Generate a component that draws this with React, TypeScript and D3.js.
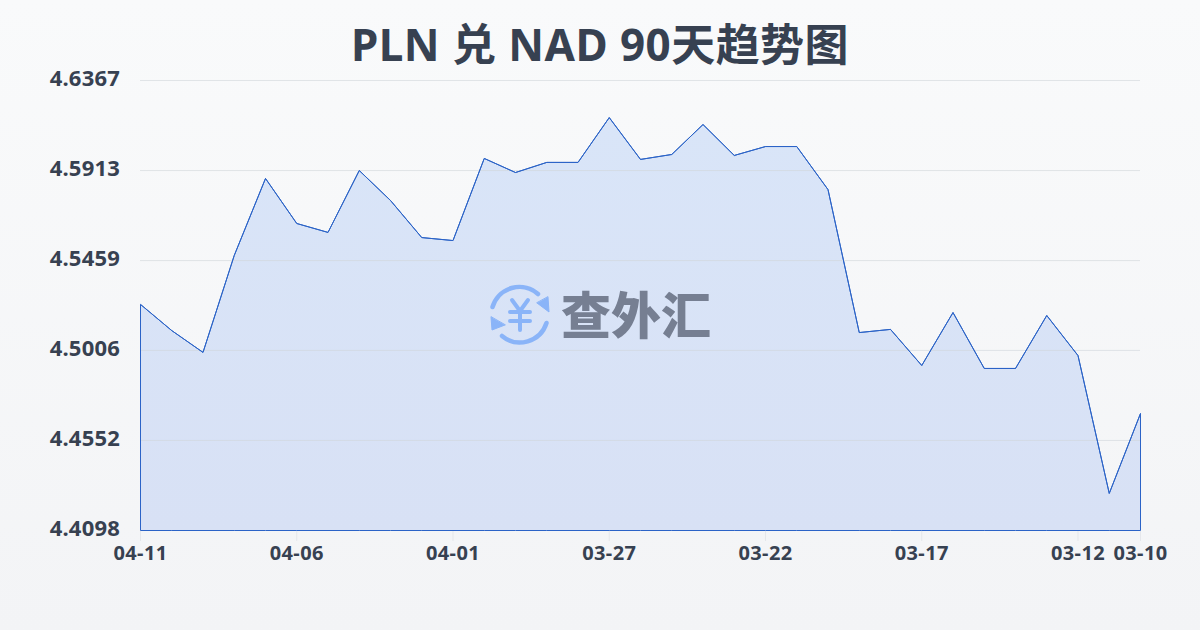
import React from "react";
import * as d3 from "d3";

const titleText = "PLN 兑 NAD 90天趋势图";
const yTickValues = [4.6367, 4.5913, 4.5459, 4.5006, 4.4552, 4.4098];
const xTickIndex = [0, 5, 10, 15, 20, 25, 30, 32];
const xTickLabels = ["04-11", "04-06", "04-01", "03-27", "03-22", "03-17", "03-12", "03-10"];
const rates = [
  4.5238, 4.5106, 4.4996, 4.5485, 4.5873, 4.5646, 4.5601, 4.5913, 4.5762, 4.5575, 4.556,
  4.5974, 4.5903, 4.5954, 4.5954, 4.618, 4.5969, 4.5994, 4.6145, 4.5989, 4.6034, 4.6034,
  4.5817, 4.5096, 4.5112, 4.493, 4.5197, 4.4915, 4.4915, 4.5182, 4.498, 4.4285, 4.4688,
];

const FONT = '"Noto Sans", "Noto Sans CJK SC", sans-serif';
const CJK = '"Noto Sans CJK SC", sans-serif';
const INK = "#374151";
const W = 1200;
const H = 630;

export default function App() {
  const x = d3.scaleLinear().domain([0, rates.length - 1]).range([140.5, 1140.5]);
  const y = d3.scaleLinear().domain([4.4098, 4.6367]).range([530.5, 80.5]);
  const line = d3.line<number>().x((_, i) => x(i)).y((d) => y(d));
  const area = d3.area<number>().x((_, i) => x(i)).y0(530.5).y1((d) => y(d));
  const outline = `${area(rates)}`;
  return (
    <svg
      width={W}
      height={H}
      viewBox={`0 0 ${W} ${H}`}
      style={{ position: "absolute", left: 0, top: 0, display: "block" }}
    >
      <defs>
        <linearGradient id="bg" x1="0" y1="0" x2="0" y2="1">
          <stop offset="0" stopColor="#f9fafb" />
          <stop offset="1" stopColor="#f3f4f6" />
        </linearGradient>
        <linearGradient id="fill" x1="0" y1="0" x2="0" y2="1">
          <stop offset="0" stopColor="#d9e5f8" />
          <stop offset="1" stopColor="#d8e1f5" />
        </linearGradient>
      </defs>
      <rect width={W} height={H} fill="url(#bg)" />
      <text x={600} y={61} textAnchor="middle" fontFamily={FONT} fontWeight={700} fontSize={44} letterSpacing={0.45} fill={INK}>
        {titleText}
      </text>
      <path d={outline} fill="url(#fill)" />
      {yTickValues.map((v) => (
        <g key={v}>
          <line x1={140} x2={1140} y1={y(v)} y2={y(v)} stroke="#d1d5db" strokeOpacity={0.6} strokeWidth={1} />
          <text x={120} y={y(v) + 5.5} textAnchor="end" fontFamily={FONT} fontWeight={700} fontSize={22} letterSpacing={0.2} fill={INK}>
            {v.toFixed(4)}
          </text>
        </g>
      ))}
      {xTickIndex.map((idx, i) => (
        <g key={idx}>
          <line x1={x(idx)} x2={x(idx)} y1={531} y2={541} stroke="#e5e7eb" />
          <text x={x(idx)} y={560} textAnchor="middle" fontFamily={FONT} fontWeight={700} fontSize={20} letterSpacing={0.4} fill={INK}>
            {xTickLabels[i]}
          </text>
        </g>
      ))}
      <path d={outline} fill="none" stroke="#2b63c7" strokeWidth={1} />
      <path d={line(rates) ?? ""} fill="none" stroke="#2b63c7" strokeWidth={1} />
      <g transform="translate(520,315)" fill="none" stroke="#8ab4f8" strokeWidth={4.5} strokeLinecap="round">
        <path d="M -27.5 -8 A 28 28 0 0 1 18 -21" />
        <path d="M 26.5 8 A 28 28 0 0 1 -18 21" />
        <path d="M 28 -18 L 29 -3 L 17 -12 Z" fill="#8ab4f8" stroke="#8ab4f8" strokeWidth={1} />
        <path d="M -29 2 L -28 15 L -15 10 Z" fill="#8ab4f8" stroke="#8ab4f8" strokeWidth={1} />
        <path d="M -8 -15 L 0 -4 L 8 -15 M 0 -4 L 0 15 M -10 -3 L 10 -3 M -10 6 L 10 6" strokeWidth={4} />
      </g>
      <text x={561} y={334} fontFamily={CJK} fontWeight={900} fontSize={50} fill="#767f92">
        查外汇
      </text>
    </svg>
  );
}
